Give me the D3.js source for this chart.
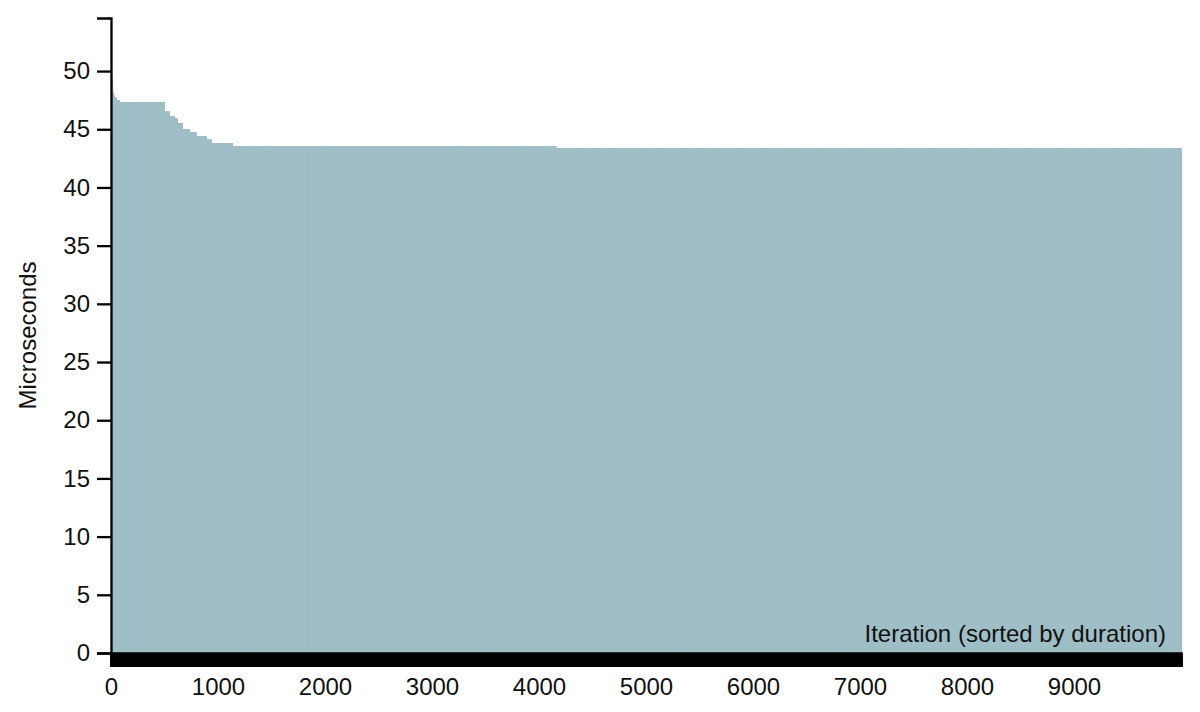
<!DOCTYPE html>
<html>
<head>
<meta charset="utf-8">
<script src="https://cdn.jsdelivr.net/npm/d3@7"></script>
<style>
  html, body { margin: 0; padding: 0; background: #fff; }
  svg { display: block; font-family: "Liberation Sans", Arial, Helvetica, sans-serif; }
</style>
</head>
<body>
<svg id="chart" width="1200" height="712"></svg>
<script>
const runValues  = [49.6, 49.2, 48.7, 48.2, 47.9, 47.7, 47.5, 47.3, 46.5, 46.1, 45.9, 45.5, 45.0, 44.7, 44.4, 44.1, 43.8, 43.55, 43.35];
const runLengths = [4,    4,    4,    6,    10,   19,   28,   421,  47,   47,   27,   47,   66,   65,   94,   46,   197,  3022,  5846];
const xTickLabels = [0, 1000, 2000, 3000, 4000, 5000, 6000, 7000, 8000, 9000];
const yLabel = "Microseconds";
const xLabel = "Iteration (sorted by duration)";

// expand the runs into one value per iteration
const durations = [];
runValues.forEach((v, i) => { for (let k = 0; k < runLengths[i]; k++) durations.push(v); });

const svg = d3.select("#chart");
const margin = {top: 18, right: 19, bottom: 59, left: 111};
const W = 1200 - margin.left - margin.right;
const H = 712 - margin.top - margin.bottom;
const g = svg.append("g").attr("transform", `translate(${margin.left},${margin.top})`);

const x = d3.scaleBand().domain(d3.range(durations.length)).range([0, W]).padding(0);
const y = d3.scaleLinear().domain([0, d3.max(durations) * 1.1]).range([H, 0]);

const barColor = "#a0bfc7";
g.append("g")
  .selectAll("rect")
  .data(durations)
  .join("rect")
  .attr("x", (d, i) => x(i))
  .attr("y", d => y(d))
  .attr("width", Math.max(x.bandwidth(), 1))
  .attr("height", d => H - y(d))
  .attr("fill", barColor);

const fontSize = 24;
const xAxis = d3.axisBottom(x)
  .tickValues(x.domain())
  .tickFormat(d => xTickLabels.includes(d) ? d : "")
  .tickSize(14)
  .tickPadding(11);
const gx = g.append("g").attr("transform", `translate(0,${H})`).call(xAxis);

const yAxis = d3.axisLeft(y).ticks(10).tickSize(14).tickPadding(7);
const gy = g.append("g").call(yAxis);

[gx, gy].forEach(a => {
  a.selectAll("path, line").attr("stroke", "#000").attr("stroke-width", 2.3);
  a.selectAll("text").attr("fill", "#111").style("font-size", fontSize + "px")
    .style("font-family", '"Liberation Sans", Arial, Helvetica, sans-serif');
});

svg.append("text")
  .attr("transform", "rotate(-90)")
  .attr("x", -(margin.top + H / 2))
  .attr("y", 36)
  .attr("text-anchor", "middle")
  .attr("fill", "#111")
  .style("font-size", fontSize + "px")
  .text(yLabel);

g.append("text")
  .attr("x", W - 15)
  .attr("y", H - 11)
  .attr("text-anchor", "end")
  .attr("fill", "#111")
  .style("font-size", fontSize + "px")
  .text(xLabel);
</script>
</body>
</html>
